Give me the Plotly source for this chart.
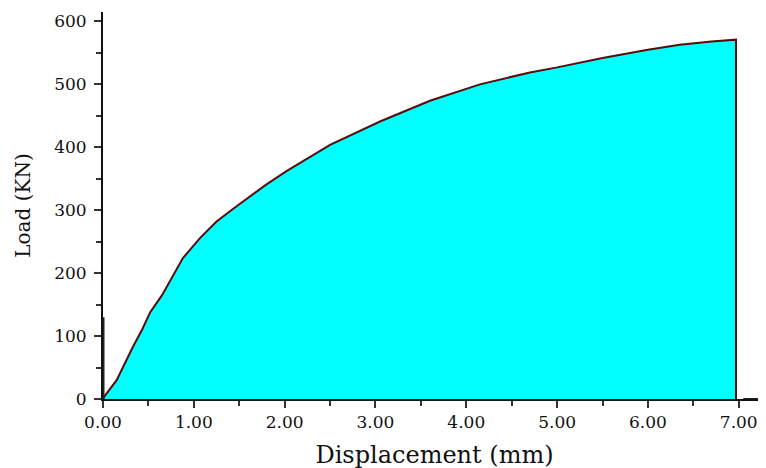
import plotly.graph_objects as go

disp = [0.0, 0.01, 0.15, 0.24, 0.33, 0.43, 0.52, 0.65, 0.76, 0.88, 1.07, 1.25, 1.43, 1.62, 1.80,
        2.02, 2.5, 3.05, 3.6, 4.15, 4.7, 5.0, 5.25, 5.5, 6.0, 6.35, 6.7, 6.97, 6.97]
load = [0, 3, 30, 57, 83, 110, 138, 165, 193, 224, 256, 282, 302, 322, 341,
        362, 404, 441, 474, 500, 519, 527, 535, 542, 555, 563, 568, 571, 0]

tail_x = [7.05, 7.3]
tail_y = [0, 0]

start_x = [0, 0]
start_y = [0, 130]

font = "DejaVu Serif"

fig = go.Figure()
fig.add_trace(go.Scatter(x=disp, y=load, mode="lines", fill="tozeroy",
                         fillcolor="#00FFFF", line=dict(color="#5a0a0a", width=2),
                         showlegend=False))
fig.add_trace(go.Scatter(x=tail_x, y=tail_y, mode="lines",
                         line=dict(color="#222222", width=2), showlegend=False))
fig.add_trace(go.Scatter(x=start_x, y=start_y, mode="lines",
                         line=dict(color="#222222", width=3), showlegend=False, cliponaxis=False))

fig.update_layout(
    width=766, height=468,
    margin=dict(l=95, r=8, t=4, b=77, autoexpand=False),
    paper_bgcolor="white", plot_bgcolor="white",
    font=dict(family=font, color="#111111", size=18),
)
fig.update_xaxes(range=[0, 7.3], tickvals=[0, 1, 2, 3, 4, 5, 6, 7],
                 tickformat=".2f", ticks="outside", ticklen=7, tickwidth=1.5,
                 tickcolor="#333333", automargin=False,
                 minor=dict(tickvals=[0.5, 1.5, 2.5, 3.5, 4.5, 5.5, 6.5], ticks="outside",
                            ticklen=5, tickcolor="#333333"),
                 showgrid=False, zeroline=False, showline=True, linecolor="#111111", linewidth=2,
                 title=dict(text="Displacement (mm)", font=dict(size=24, family=font), standoff=15),
                 tickfont=dict(size=17, family=font))
fig.update_yaxes(range=[0, 615], tickvals=[0, 100, 200, 300, 400, 500, 600],
                 ticks="outside", ticklen=7, tickwidth=1.5, tickcolor="#333333", automargin=False,
                 ticklabelstandoff=4,
                 minor=dict(tickvals=[50, 150, 250, 350, 450, 550], ticks="outside",
                            ticklen=5, tickcolor="#333333"),
                 showgrid=False, zeroline=False, showline=True, linecolor="#111111", linewidth=2,
                 title=dict(text="Load (KN)", font=dict(size=20, family=font), standoff=18),
                 tickfont=dict(size=17, family=font))

fig.write_html("out.html")
